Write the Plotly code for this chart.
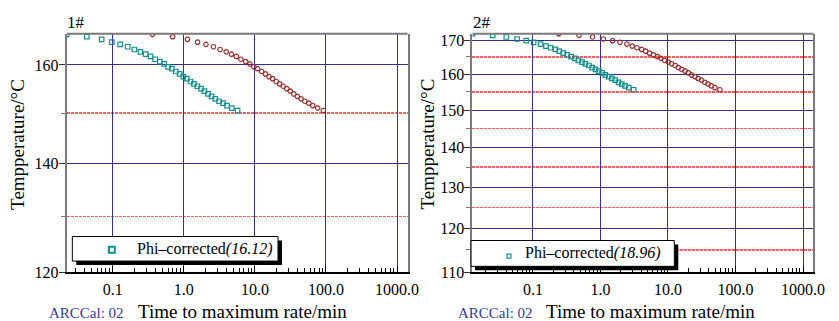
import plotly.graph_objects as go

# The page is photographed from a slightly taller viewport and squeezed to 839x321,
# so the figure is laid out on a 330 px tall canvas using the same relative positions.
W, H = 839, 330
REF_H = 321

# ---------------- data ----------------
# Sample 1#
temp_1 = [166.6, 166.1, 165.5, 164.9, 164.4, 163.9, 163.3, 162.8, 162.3, 161.8, 161.2, 160.7,
          160.2, 159.6, 159.2, 158.6, 158.1, 157.5, 157.1, 156.5, 156.0, 155.5, 155.0, 154.5,
          153.9, 153.4, 152.9, 152.4, 152.0, 151.5, 151.0, 150.5]
tmr_1_corrected = [0.0224, 0.0431, 0.0697, 0.0968, 0.127, 0.162, 0.201, 0.245, 0.291, 0.340, 0.394,
                   0.460, 0.527, 0.600, 0.679, 0.772, 0.872, 0.981, 1.10, 1.24, 1.386, 1.55, 1.745,
                   1.95, 2.19, 2.46, 2.77, 3.13, 3.56, 4.05, 4.74, 5.70]
tmr_1_measured = [0.361, 0.695, 1.124, 1.560, 2.047, 2.611, 3.240, 3.949, 4.691, 5.481, 6.351, 7.415,
                  8.495, 9.672, 10.95, 12.44, 14.06, 15.81, 17.73, 19.99, 22.34, 24.99, 28.13, 31.43,
                  35.30, 39.66, 44.65, 50.46, 57.39, 65.29, 76.41, 91.88]
phi_1 = "16.12"

# Sample 2#
temp_2 = [171.9, 171.4, 170.9, 170.3, 169.8, 169.3, 168.8, 168.2, 167.7, 167.2, 166.7, 166.1,
          165.6, 165.1, 164.6, 164.0, 163.5, 163.0, 162.5, 161.9, 161.4, 160.9, 160.4, 159.8,
          159.3, 158.8, 158.3, 157.7, 157.2, 156.7, 156.2, 155.6]
tmr_2_corrected = [0.0127, 0.0254, 0.0403, 0.0583, 0.0798, 0.1024, 0.130, 0.156, 0.183, 0.215, 0.246,
                   0.281, 0.321, 0.368, 0.415, 0.470, 0.533, 0.596, 0.675, 0.753, 0.842, 0.944, 1.055,
                   1.179, 1.322, 1.477, 1.651, 1.851, 2.070, 2.312, 2.618, 3.099]
tmr_2_measured = [0.241, 0.482, 0.764, 1.105, 1.513, 1.942, 2.465, 2.958, 3.470, 4.076, 4.664, 5.328,
                  6.086, 6.977, 7.868, 8.911, 10.11, 11.30, 12.80, 14.28, 15.96, 17.90, 20.00, 22.35,
                  25.07, 28.00, 31.30, 35.09, 39.25, 43.84, 49.64, 58.76]
phi_2 = "18.96"

x_tick_vals = [0.1, 1, 10, 100, 1000]
x_tick_text = ["0.1", "1.0", "10.0", "100.0", "1000.0"]
y1_major = [120, 140, 160]
y1_minor = [130, 150]
y2_major = [110, 120, 130, 140, 150, 160, 170]
y2_minor = [115, 125, 135, 145, 155, 165]

# ---------------- style ----------------
TEAL = "#11908e"
RED = "#9b2d2d"
NAVY = "#372f90"
DOT = "#ff5c5c"
GRAY = "#7a7a7a"
SERIF = "Liberation Serif"


def inv(t_c):
    # Arrhenius-type temperature scale (-1000/T[K])
    return -1000.0 / (t_c + 273.15)


def px(x):
    return x / W


def py(y):
    return 1 - y / REF_H


fig = go.Figure()


def add_series(times, temps, xa, ya, symbol, color, size):
    fig.add_trace(go.Scatter(
        x=times, y=[inv(v) for v in temps], mode="markers", xaxis=xa, yaxis=ya,
        marker=dict(symbol=symbol, size=size, color=color, line=dict(color=color, width=1.2)),
        showlegend=False, hoverinfo="skip"))


add_series(tmr_1_measured, temp_1, "x", "y", "circle-open", RED, 4.5)
add_series(tmr_1_corrected, temp_1, "x", "y", "square-open", TEAL, 4.5)
add_series(tmr_2_measured, temp_2, "x2", "y2", "circle-open", RED, 4.5)
add_series(tmr_2_corrected, temp_2, "x2", "y2", "square-open", TEAL, 4.5)

minor_x = [k * 10 ** e for e in range(-2, 4) for k in range(2, 10)]


def xaxis_cfg(dom, rng):
    return dict(
        type="log", domain=dom, range=rng, tickmode="array", tickvals=x_tick_vals,
        ticktext=x_tick_text, showgrid=True, gridcolor=NAVY, gridwidth=1,
        ticks="inside", ticklen=6, tickcolor="black", tickwidth=1, ticklabelstandoff=2,
        minor=dict(tickmode="array", tickvals=minor_x, ticks="inside", ticklen=4,
                   tickcolor="black", tickwidth=1, showgrid=False),
        showline=True, linecolor="black", linewidth=1.5, zeroline=False,
        tickfont=dict(family=SERIF, size=16, color="black"),
    )


def yaxis_cfg(dom, rng, major, minor):
    return dict(
        domain=dom, range=rng, tickmode="array", tickvals=[inv(v) for v in major],
        ticktext=[str(v) for v in major], showgrid=True, gridcolor=NAVY, gridwidth=1,
        ticks="outside", ticklen=6, tickcolor="#333333", tickwidth=1, ticklabelstandoff=-3,
        minor=dict(tickmode="array", tickvals=[inv(v) for v in minor], ticks="outside",
                   ticklen=4, tickcolor=GRAY, showgrid=True, gridcolor=DOT, griddash="3px,1px",
                   gridwidth=1.4),
        showline=True, linecolor=GRAY, linewidth=2, mirror=True, zeroline=False,
        tickfont=dict(family=SERIF, size=16, color="black"),
    )


ydom = [py(271.7), py(32)]
fig.update_layout(
    width=W, height=H, margin=dict(l=0, r=0, t=0, b=0),
    paper_bgcolor="white", plot_bgcolor="white", showlegend=False,
    xaxis=xaxis_cfg([px(67.7), px(413)], [-1.647, 3.149]),
    yaxis=yaxis_cfg(ydom, [inv(120), -2.2734], y1_major, y1_minor),
    xaxis2=xaxis_cfg([px(478.7), px(824.3)], [-1.896, 3.155]),
    yaxis2=yaxis_cfg(ydom, [inv(110), -2.2471], y2_major, y2_minor),
)
fig.layout.xaxis.anchor = "y"
fig.layout.yaxis.anchor = "x"
fig.layout.xaxis2.anchor = "y2"
fig.layout.yaxis2.anchor = "x2"

shapes = []
# top frame lines
for xr, yr in (("x domain", "y domain"), ("x2 domain", "y2 domain")):
    shapes.append(dict(type="line", xref=xr, yref=yr, x0=0, x1=1, y0=1, y1=1,
                       line=dict(color=GRAY, width=2)))

annotations = []


def legend_box(x0, y0, x1, y1, mx, my, msize, mwidth, tx, label):
    # shadow
    shapes.append(dict(type="rect", xref="paper", yref="paper",
                       x0=px(x0 + 4), x1=px(x1 + 4), y0=py(y1 + 4), y1=py(y0 + 4),
                       fillcolor="black", line=dict(width=0), layer="above"))
    shapes.append(dict(type="rect", xref="paper", yref="paper",
                       x0=px(x0), x1=px(x1), y0=py(y1), y1=py(y0),
                       fillcolor="white", line=dict(color="black", width=1), layer="above"))
    shapes.append(dict(type="rect", xref="paper", yref="paper",
                       x0=px(mx - msize / 2), x1=px(mx + msize / 2),
                       y0=py(my + msize / 2), y1=py(my - msize / 2),
                       fillcolor="white", line=dict(color=TEAL, width=mwidth), layer="above"))
    annotations.append(dict(xref="paper", yref="paper", x=px(tx), y=py((y0 + y1) / 2),
                            xanchor="left", yanchor="middle", showarrow=False,
                            text=label, font=dict(family=SERIF, size=16, color="black")))


legend_box(73.3, 236, 281.7, 260.7, 113.3, 249.3, 6, 2, 137, "Phi–corrected<i>(" + phi_1 + ")</i>")
legend_box(477.3, 240, 683.3, 266, 515.7, 255.7, 4, 1.2, 530, "Phi–corrected<i>(" + phi_2 + ")</i>")


def text(x, y, s, size, color="black", xanchor="left", angle=0):
    annotations.append(dict(xref="paper", yref="paper", x=px(x), y=py(y), xanchor=xanchor,
                            yanchor="middle", showarrow=False, text=s, textangle=angle,
                            font=dict(family=SERIF, size=size, color=color)))


text(66, 21, "1#", 17)
text(477, 21, "2#", 17)
text(48, 313, "ARCCal: 02", 15, color="#3b37a0")
text(462, 313, "ARCCal: 02", 15, color="#3b37a0")
text(138, 311, "Time to maximum rate/min", 19)
text(551, 311, "Time to maximum rate/min", 19)
text(17, 143, "Tempperature/°C", 19, xanchor="center", angle=-90)
text(433, 143, "Tempperature/°C", 19, xanchor="center", angle=-90)

fig.update_layout(shapes=shapes, annotations=annotations)

fig.write_html(
    "out.html",
    config={"displayModeBar": False, "staticPlot": True},
    post_script=(
        "document.documentElement.style.margin='0px';"
        "document.documentElement.style.overflow='hidden';"
        "document.body.style.margin='0px';"
        "document.body.style.overflow='hidden';"
        "var gd=document.getElementById('{plot_id}');"
        "gd.style.position='fixed';gd.style.left='0px';gd.style.top='0px';"
    ),
)
